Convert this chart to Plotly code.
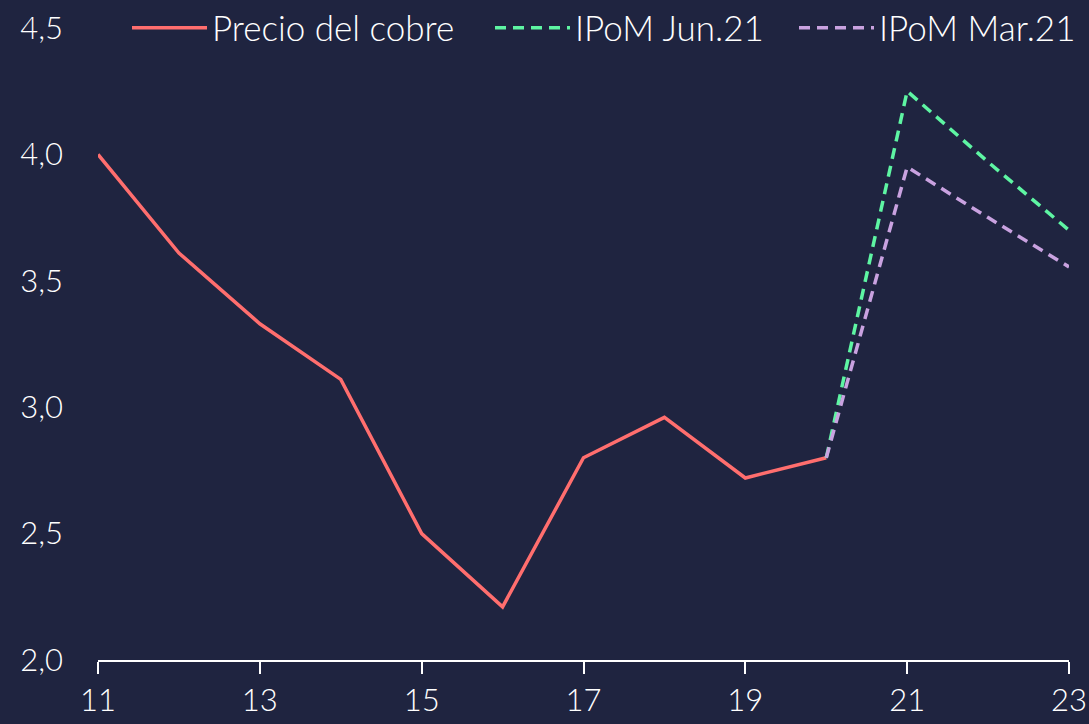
import plotly.graph_objects as go

years = [11, 12, 13, 14, 15, 16, 17, 18, 19, 20]
precio = [4.00, 3.61, 3.33, 3.11, 2.50, 2.21, 2.80, 2.96, 2.72, 2.80]

proj_years = [20, 21, 22, 23]
ipom_jun = [2.80, 4.25, 3.97, 3.70]
ipom_mar = [2.80, 3.95, 3.75, 3.555]

x_ticks = [11, 13, 15, 17, 19, 21, 23]
y_ticks = [2.0, 2.5, 3.0, 3.5, 4.0, 4.5]

BG = "#1f2440"
FONT = "Lato"

fig = go.Figure()
fig.add_trace(go.Scatter(x=years, y=precio, mode="lines", name="Precio del cobre",
                         line=dict(color="#ff6e6e", width=3.5), legend="legend"))
fig.add_trace(go.Scatter(x=proj_years, y=ipom_jun, mode="lines", name="IPoM Jun.21",
                         line=dict(color="#5ef5a3", width=3.5, dash="11px,7px"), legend="legend2"))
fig.add_trace(go.Scatter(x=proj_years, y=ipom_mar, mode="lines", name="IPoM Mar.21",
                         line=dict(color="#c9a2e0", width=3.5, dash="11px,7px"), legend="legend3"))

ly = 1 - 28 / 724
leg_common = dict(orientation="h", yref="container", y=ly, yanchor="middle",
                  xref="container", xanchor="left", bgcolor="rgba(0,0,0,0)",
                  font=dict(family=FONT, size=35, color="#ffffff", weight=300),
                  itemwidth=75)

fig.update_layout(
    width=1089, height=724,
    paper_bgcolor=BG, plot_bgcolor=BG,
    margin=dict(l=98, r=20, t=28, b=64, autoexpand=False),
    separators=",.",
    font=dict(family=FONT, size=31, color="#ffffff", weight=300),
    showlegend=True,
    legend=dict(leg_common, x=127 / 1089),
    legend2=dict(leg_common, x=490 / 1089),
    legend3=dict(leg_common, x=794 / 1089),
    xaxis=dict(range=[11, 23], tickmode="array", tickvals=x_ticks,
               ticktext=[str(v) for v in x_ticks],
               showgrid=False, zeroline=False, showline=True, linecolor="#ffffff",
               linewidth=2, ticks="outside", ticklen=12, tickwidth=2, tickcolor="#ffffff",
               tickfont=dict(family=FONT, size=31, color="#ffffff", weight=300)),
    yaxis=dict(range=[2.0, 4.5], tickmode="array", tickvals=y_ticks,
               tickformat=".1f", showgrid=False, zeroline=False, showline=False,
               ticks="", ticklabelstandoff=34,
               tickfont=dict(family=FONT, size=31, color="#ffffff", weight=300)),
)

fig.write_html("out.html", config={"displayModeBar": False},
               post_script="document.body.style.margin='0';document.body.style.background='%s';" % BG)
